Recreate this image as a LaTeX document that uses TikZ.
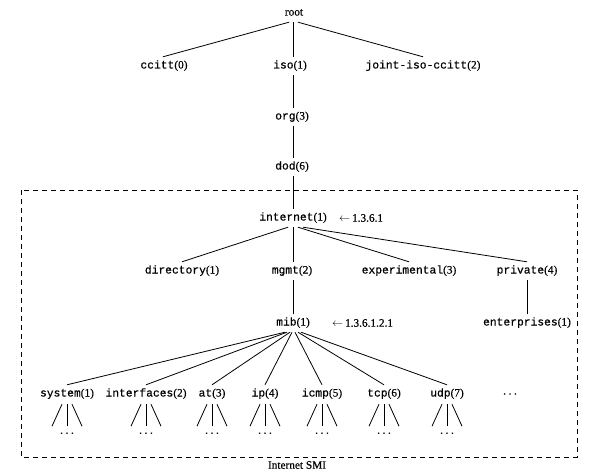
\documentclass[tikz,border=0pt]{standalone}
\usepackage{fontspec}
\setmainfont[FakeBold=0.4]{Liberation Serif}
\setmonofont[FakeBold=0.5]{Liberation Mono}
\newcommand\oidlabel[2]{\texttt{#1}(#2)}
\newcommand\spacedots{.\hspace{2.6pt}.\hspace{2.6pt}.}
\tikzset{
  lbl/.style={inner xsep=1pt, inner ysep=4pt, text height=7.5pt, text depth=2.5pt, font=\fontsize{11.3}{13}\selectfont},
  oidnote/.style={anchor=west, inner sep=0pt, font=\fontsize{11.3}{13}\selectfont},
  edge/.style={line width=0.8pt},
  smibox/.style={line width=0.8pt, dash pattern=on 5pt off 4pt}
}
\begin{document}
\begin{tikzpicture}[x=1pt,y=-1pt]
\useasboundingbox (0,0) rectangle (596,473);
% top
\node[lbl] (root) at (294,13) {root};
\node[lbl] (ccitt) at (164,66) {\oidlabel{ccitt}{0}};
\node[lbl] (iso) at (290,66) {\oidlabel{iso}{1}};
\node[lbl] (joint) at (423,66) {\oidlabel{joint-iso-ccitt}{2}};
\node[lbl] (org) at (292,117) {\oidlabel{org}{3}};
\node[lbl] (dod) at (292,167) {\oidlabel{dod}{6}};
% internet subtree
\node[lbl] (internet) at (293,218) {\oidlabel{internet}{1}};
\node[oidnote] (inetoid) at (339,218) {$\leftarrow$\,1.3.6.1};
\node[lbl] (directory) at (182,271) {\oidlabel{directory}{1}};
\node[lbl] (mgmt) at (292,271) {\oidlabel{mgmt}{2}};
\node[lbl] (experimental) at (409,271) {\oidlabel{experimental}{3}};
\node[lbl] (private) at (527,271) {\oidlabel{private}{4}};
\node[lbl] (mib) at (293,323) {\oidlabel{mib}{1}};
\node[oidnote] (miboid) at (332,323) {$\leftarrow$\,1.3.6.1.2.1};
\node[lbl] (enterprises) at (527,323) {\oidlabel{enterprises}{1}};
% mib children
\node[lbl] (system) at (67,394) {\oidlabel{system}{1}};
\node[lbl] (interfaces) at (146,394) {\oidlabel{interfaces}{2}};
\node[lbl] (at) at (212,394) {\oidlabel{at}{3}};
\node[lbl] (ip) at (265,394) {\oidlabel{ip}{4}};
\node[lbl] (icmp) at (322,394) {\oidlabel{icmp}{5}};
\node[lbl] (tcp) at (384,394) {\oidlabel{tcp}{6}};
\node[lbl] (udp) at (447,394) {\oidlabel{udp}{7}};
\node[lbl] (more) at (510,392) {\spacedots};
% box
\draw[smibox] (21,190) rectangle (577,457);
\node[inner sep=0pt, font=\fontsize{11.3}{13}\selectfont] (smi) at (297,465) {Internet SMI};
% edges top
\draw[edge] ([xshift=-5pt]root.south) -- ([xshift=-1pt]ccitt.north);
\draw[edge] ([xshift=-1pt]root.south) -- ([xshift=3pt]iso.north);
\draw[edge] ([xshift=4pt]root.south) -- (joint.north);
\draw[edge] ([xshift=3pt]iso.south) -- ([xshift=1pt]org.north);
\draw[edge] ([xshift=1pt]org.south) -- ([xshift=1pt]dod.north);
\draw[edge] ([xshift=1pt]dod.south) -- (internet.north);
% internet edges
\draw[edge] ([xshift=-5pt]internet.south) -- (directory.north);
\draw[edge] (internet.south) -- ([xshift=1pt]mgmt.north);
\draw[edge] ([xshift=5pt]internet.south) -- (experimental.north);
\draw[edge] ([xshift=10pt]internet.south) -- (private.north);
\draw[edge] ([xshift=1pt]mgmt.south) -- (mib.north);
\draw[edge] (private.south) -- (enterprises.north);
% mib edges
\draw[edge] ([xshift=-8pt]mib.south) -- (system.north);
\draw[edge] ([xshift=-6pt]mib.south) -- (interfaces.north);
\draw[edge] ([xshift=-3pt]mib.south) -- (at.north);
\draw[edge] ([xshift=-1pt]mib.south) -- (ip.north);
\draw[edge] ([xshift=2pt]mib.south) -- (icmp.north);
\draw[edge] ([xshift=5pt]mib.south) -- (tcp.north);
\draw[edge] ([xshift=8pt]mib.south) -- (udp.north);
% fans below leaves
\foreach \n in {system,interfaces,at,ip,icmp,tcp,udp}{
  \draw[edge] ([xshift=-5pt,yshift=-1pt]\n.south) -- ++(-10,22);
  \draw[edge] ([yshift=-1pt]\n.south) -- ++(0,22);
  \draw[edge] ([xshift=5pt,yshift=-1pt]\n.south) -- ++(10,22);
  \node[inner sep=0pt, font=\fontsize{11.3}{13}\selectfont] (\n dots) at ([yshift=-30pt]\n.south) {\spacedots};
}
\end{tikzpicture}
\end{document}
